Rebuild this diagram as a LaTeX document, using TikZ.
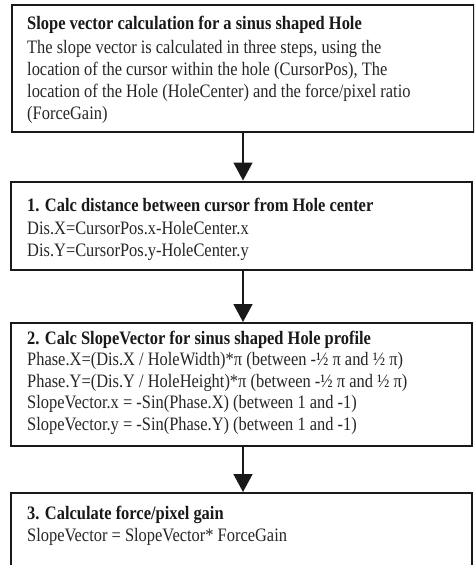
\documentclass[tikz,border=0pt]{standalone}
\usepackage{fontspec}
\setmainfont{Liberation Serif}[FakeStretch=0.865]
\usetikzlibrary{arrows.meta,calc}

\begin{document}
\begin{tikzpicture}[x=1pt,y=-1pt,
  box/.style={draw=black!90, line width=2pt, anchor=north west, inner sep=0pt, minimum width=461pt},
  title/.style={anchor=base west, inner sep=0pt, text=black!90, font=\fontsize{19}{22}\selectfont\bfseries},
  body/.style={anchor=base west, inner sep=0pt, text=black!85, font=\fontsize{19}{22}\selectfont},
  arr/.style={draw=black!90, line width=1.6pt, -{Triangle[width=19pt,length=18pt]}}]
\path[use as bounding box] (0,0) rectangle (474,565);
\clip (0,0) rectangle (474,565);

% the four boxes
\node[box, minimum width=462pt, minimum height=127pt] (b1) at (11,4) {};
\node[box, minimum height=88pt]  (b2) at (10,180.5) {};
\node[box, minimum height=123pt] (b3) at (10,322) {};
\node[box, minimum height=110pt] (b4) at (10,492) {};

% box 1: introduction
\node[title] (t1) at ($(b1.north west)+(16,25)$) {Slope vector calculation for a sinus shaped Hole};
\node[body] (t1a) at ($(t1.base west)+(0,24)$) {The slope vector is calculated in three steps, using the};
\node[body] (t1b) at ($(t1a.base west)+(0,22.3)$) {location of the cursor within the hole (CursorPos), The};
\node[body] (t1c) at ($(t1b.base west)+(0,22.3)$) {location of the Hole (HoleCenter) and the force/pixel ratio};
\node[body] (t1d) at ($(t1c.base west)+(0,22.3)$) {(ForceGain)};

% box 2: distance
\node[title] (t2) at ($(b2.north west)+(17,30.5)$) {1. Calc distance between cursor from Hole center};
\node[body] (t2a) at ($(t2.base west)+(0,23)$) {Dis.X=CursorPos.x-HoleCenter.x};
\node[body] (t2b) at ($(t2a.base west)+(0,22)$) {Dis.Y=CursorPos.y-HoleCenter.y};

% box 3: slope vector
\node[title] (t3) at ($(b3.north west)+(17,22)$) {2. Calc SlopeVector for sinus shaped Hole profile};
\node[body] (t3a) at ($(t3.base west)+(0,21.5)$) {Phase.X=(Dis.X / HoleWidth)*π (between -½ π and ½ π)};
\node[body] (t3b) at ($(t3a.base west)+(0,21.5)$) {Phase.Y=(Dis.Y / HoleHeight)*π (between -½ π and ½ π)};
\node[body] (t3c) at ($(t3b.base west)+(0,21.5)$) {SlopeVector.x = -Sin(Phase.X) (between 1 and -1)};
\node[body] (t3d) at ($(t3c.base west)+(0,21.5)$) {SlopeVector.y = -Sin(Phase.Y) (between 1 and -1)};

% box 4: gain
\node[title] (t4) at ($(b4.north west)+(17,27)$) {3. Calculate force/pixel gain};
\node[body] (t4a) at ($(t4.base west)+(0,22)$) {SlopeVector = SlopeVector* ForceGain};

% connectors
\coordinate (ax) at (243,0);
\draw[arr] (b1.south -| ax) -- (b2.north -| ax);
\draw[arr] (b2.south -| ax) -- (b3.north -| ax);
\draw[arr] (b3.south -| ax) -- (b4.north -| ax);
\end{tikzpicture}
\end{document}
